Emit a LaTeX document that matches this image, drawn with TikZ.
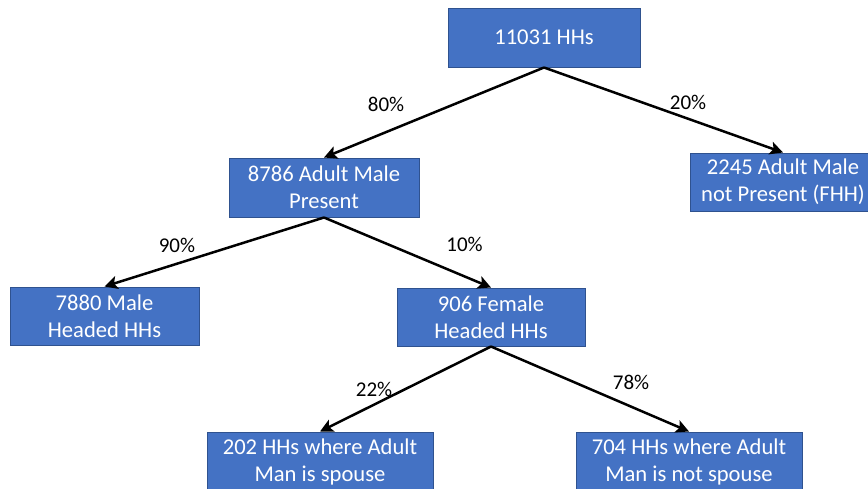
\documentclass[tikz,border=0pt]{standalone}
\usepackage{fontspec}
\setmainfont{Carlito}
\usetikzlibrary{arrows.meta}
\definecolor{boxfill}{HTML}{4472C4}
\definecolor{boxline}{HTML}{2F528F}
\begin{document}
\begin{tikzpicture}[x=0.5pt,y=-0.5pt,
  hhbox/.style={draw=boxline,line width=0.5pt,fill=boxfill,text=white,align=center,
    inner sep=0pt,font=\fontsize{11.3}{13.5}\selectfont},
  conn/.style={line width=1.25pt,-{Stealth[length=6.5pt,width=6.5pt,inset=1.5pt]}},
  pct/.style={inner sep=0pt,font=\fontsize{10.5}{12}\selectfont}]
\useasboundingbox (0,0) rectangle (868,488);
\begin{scope}
\clip (0,0) rectangle (868,488);
\node[hhbox,minimum width=96pt,minimum height=29.5pt] (A) at (544,37.5) {11031 HHs};
\node[hhbox,minimum width=95pt,minimum height=29.5pt] (B) at (324,187.5) {8786 Adult Male\\Present};
\node[hhbox,minimum width=93pt,minimum height=29pt] (C) at (783,182) {2245 Adult Male\\not Present (FHH)};
\node[hhbox,minimum width=94.5pt,minimum height=29pt] (D) at (104.5,316) {7880 Male\\Headed HHs};
\node[hhbox,minimum width=94pt,minimum height=29pt] (E) at (491,317) {906 Female\\Headed HHs};
\node[hhbox,minimum width=113pt,minimum height=29.5pt] (F) at (320,461.5) {202 HHs where Adult\\Man is spouse};
\node[hhbox,minimum width=113pt,minimum height=29.5pt] (G) at (689,461.5) {704 HHs where Adult\\Man is not spouse};
\end{scope}
\draw[conn] (A.south) -- (B.north);
\draw[conn] (A.south) -- (C.north);
\draw[conn] (B.south) -- (D.north);
\draw[conn] (B.south) -- (E.north);
\draw[conn] (E.south) -- (F.north);
\draw[conn] (E.south) -- (G.north);
\node[pct] (pAB) at (386,104.5) {80\%};
\node[pct] (pAC) at (688,102.5) {20\%};
\node[pct] (pBD) at (177,245.5) {90\%};
\node[pct] (pBE) at (464.5,244.5) {10\%};
\node[pct] (pEF) at (374,389.5) {22\%};
\node[pct] (pEG) at (631,382.5) {78\%};
\end{tikzpicture}
\end{document}
